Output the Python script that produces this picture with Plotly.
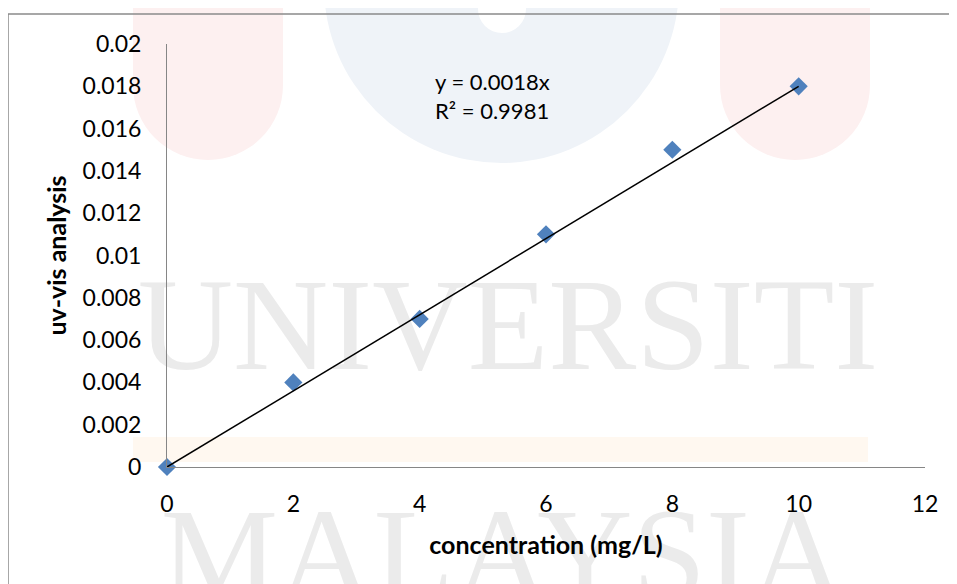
import plotly.graph_objects as go

# Data
concentration = [0, 2, 4, 6, 8, 10]
absorbance = [0, 0.004, 0.007, 0.011, 0.015, 0.018]
slope = 0.0018
r_squared = 0.9981
x_ticks = [0, 2, 4, 6, 8, 10, 12]
y_ticks = [0, 0.002, 0.004, 0.006, 0.008, 0.01, 0.012, 0.014, 0.016, 0.018, 0.02]
y_tick_labels = ["0", "0.002", "0.004", "0.006", "0.008", "0.01", "0.012", "0.014", "0.016", "0.018", "0.02"]

# page body has an 8px margin: the figure starts at (8, 8) in the window
OFF = 8
W, H = 957 - OFF, 584 - OFF
L, R, T, B = 167 - OFF, 32, 44 - OFF, 117
PW, PH = W - L - R, H - T - B

def px(x):  # window pixel -> paper
    return (x - OFF - L) / PW

def py(y):
    return (H - B - (y - OFF)) / PH

FONT = "Lato"

trend_x = [min(concentration), max(concentration)]
trend_y = [slope * v for v in trend_x]

fig = go.Figure()
fig.add_trace(go.Scatter(
    x=concentration, y=absorbance, mode="markers",
    marker=dict(symbol="diamond", size=14, color="#4F81BD", line=dict(width=0)),
    showlegend=False, cliponaxis=False,
))
fig.add_trace(go.Scatter(
    x=trend_x, y=trend_y, mode="lines",
    line=dict(color="black", width=1.5), showlegend=False,
))

shapes = []
# faint watermark decorations
pink = "#fdf0f0"
blue = "#eff3f8"
for x0, x1 in [(133, 283), (720, 870)]:
    shapes.append(dict(type="rect", xref="paper", yref="paper", x0=px(x0), x1=px(x1),
                       y0=py(85), y1=py(-5), fillcolor=pink, line=dict(width=0), layer="below"))
    shapes.append(dict(type="circle", xref="paper", yref="paper", x0=px(x0), x1=px(x1),
                       y0=py(160), y1=py(10), fillcolor=pink, line=dict(width=0), layer="below"))
shapes.append(dict(type="circle", xref="paper", yref="paper", x0=px(324), x1=px(679),
                   y0=py(163), y1=py(-192), fillcolor=blue, line=dict(width=0), layer="below"))
shapes.append(dict(type="rect", xref="paper", yref="paper", x0=px(478), x1=px(526),
                   y0=py(9), y1=py(-5), fillcolor="white", line=dict(width=0), layer="below"))
shapes.append(dict(type="circle", xref="paper", yref="paper", x0=px(478), x1=px(526),
                   y0=py(33), y1=py(-15), fillcolor="white", line=dict(width=0), layer="below"))
shapes.append(dict(type="rect", xref="paper", yref="paper", x0=px(133), x1=px(868),
                   y0=py(462), y1=py(437), fillcolor="#fff8f0", line=dict(width=0), layer="below"))
# watermark words
shapes.append(dict(type="rect", xref="paper", yref="paper", x0=px(140), x1=px(876),
                   y0=py(360), y1=py(260), line=dict(width=0), layer="below",
                   label=dict(text="UNIVERSITI", textposition="middle center",
                              font=dict(family="Liberation Serif", size=132, color="#ebebeb"))))
shapes.append(dict(type="rect", xref="paper", yref="paper", x0=px(130), x1=px(876),
                   y0=py(590), y1=py(490), line=dict(width=0), layer="below",
                   label=dict(text="MALAYSIA", textposition="middle center",
                              font=dict(family="Liberation Serif", size=132, color="#ebebeb"))))
# outer chart frame
shapes.append(dict(type="rect", xref="paper", yref="paper", x0=px(8), x1=px(990),
                   y0=py(620), y1=py(14), line=dict(color="#8a8a8a", width=1.5), layer="above"))

fig.update_layout(
    width=W, height=H,
    margin=dict(l=L, r=R, t=T, b=B),
    paper_bgcolor="white", plot_bgcolor="rgba(0,0,0,0)",
    font=dict(family=FONT, color="black", size=23),
    shapes=shapes,
    xaxis=dict(
        range=[0, 12], tickvals=x_ticks, ticktext=[str(v) for v in x_ticks],
        showgrid=False, zeroline=False, showline=True, linecolor="#868686", linewidth=1,
        ticks="", ticklabelstandoff=16, tickfont=dict(size=23),
        title=dict(text="<b>concentration (mg/L)</b>", font=dict(size=25), standoff=20),
    ),
    yaxis=dict(
        range=[0, 0.02], tickvals=y_ticks, ticktext=y_tick_labels,
        showgrid=False, zeroline=False, showline=True, linecolor="#868686", linewidth=1,
        ticks="", ticklabelstandoff=20, tickfont=dict(size=23),
        title=dict(text="<b>uv-vis analysis</b>", font=dict(size=25), standoff=8),
    ),
    annotations=[dict(
        x=4.21, y=0.01755, xref="x", yref="y", xanchor="left", yanchor="middle",
        text=f"y = {slope}x<br>R² = {r_squared}", showarrow=False, align="left",
        font=dict(size=22),
    )],
)

fig.write_html("out.html")
